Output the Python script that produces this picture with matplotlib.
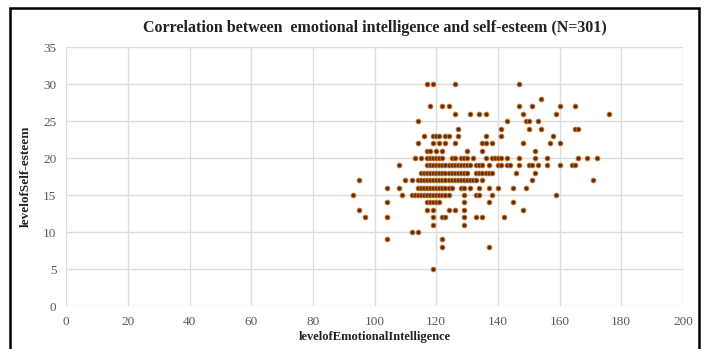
import matplotlib
matplotlib.use("Agg")
import matplotlib.pyplot as plt
from matplotlib.patches import Rectangle

# Self-esteem levels (y) and the emotional intelligence scores (x) seen on each level
se_levels = [30, 28, 27, 26, 25, 24, 23, 22, 21, 20, 19, 18, 17, 16, 15, 14, 13, 12, 11, 10, 9, 8, 5]
ei_rows = [
    [117, 119, 126, 147],
    [154],
    [118, 122, 124, 147, 151, 160, 165],
    [126, 131, 134, 136, 148, 159, 176],
    [114, 143, 149, 150, 153],
    [127, 141, 150, 154, 165, 166],
    [116, 119, 120, 121, 123, 124, 127, 136, 141, 158],
    [114, 119, 121, 123, 126, 135, 136, 138, 148, 157, 160],
    [117, 118, 120, 122, 130, 135, 152],
    [113, 115, 117, 118, 119, 120, 121, 122, 125, 126, 128, 129, 130, 132, 136,
     138, 139, 140, 141, 143, 147, 152, 156, 166, 169, 172],
    [108, 117, 118, 119, 120, 121, 122, 123, 124, 125, 126, 127, 128, 129, 130,
     131, 133, 134, 135, 137, 140, 141, 143, 144, 147, 150, 151, 153, 156, 160,
     164, 165],
    [115, 116, 117, 118, 119, 120, 121, 122, 123, 124, 125, 126, 127, 128, 129,
     130, 133, 134, 135, 136, 137, 138, 146, 152],
    [95, 110, 112, 114, 115, 116, 117, 118, 119, 120, 121, 122, 123, 124, 125,
     126, 127, 128, 129, 130, 131, 132, 133, 135, 151, 171],
    [104, 108, 114, 115, 116, 117, 118, 119, 120, 121, 122, 123, 124, 125, 128,
     129, 131, 134, 137, 140, 145, 149],
    [93, 109, 112, 113, 114, 115, 116, 117, 118, 119, 120, 121, 122, 123, 124,
     129, 133, 134, 138, 159],
    [104, 117, 118, 119, 120, 121, 129, 137, 145],
    [95, 117, 119, 124, 126, 129, 148],
    [97, 104, 119, 122, 123, 129, 133, 135, 142],
    [119, 129],
    [112, 114],
    [104, 122],
    [122, 137],
    [119],
]

x_ticks = [0, 20, 40, 60, 80, 100, 120, 140, 160, 180, 200]
y_ticks = [0, 5, 10, 15, 20, 25, 30, 35]

ei = []
se = []
for level, row in zip(se_levels, ei_rows):
    for v in row:
        ei.append(v)
        se.append(level)

plt.rcParams["font.family"] = ["Liberation Serif", "DejaVu Serif"]

fig = plt.figure(figsize=(7.04, 3.49), dpi=100)
ax = fig.add_axes([0.094, 0.123, 0.876, 0.742])

ax.scatter(ei, se, s=12, facecolor="#5e2e0e", edgecolor="#d07a2a",
           linewidths=0.6, zorder=3)

ax.set_xlim(0, 200)
ax.set_ylim(0, 35)
ax.set_xticks(x_ticks)
ax.set_yticks(y_ticks)
ax.grid(True, color="#dcdcdc", linewidth=1.0)
ax.set_axisbelow(True)
for s in ax.spines.values():
    s.set_visible(False)
ax.tick_params(length=0, labelsize=9.5, colors="#595959", pad=7)

ax.set_title("Correlation between  emotional intelligence and self-esteem (N=301)",
             fontsize=11.5, fontweight="bold", color="#222222", pad=11)
ax.set_xlabel("levelofEmotionalIntelligence", fontsize=9, fontweight="bold",
              color="#222222", labelpad=2)
ax.set_ylabel("levelofSelf-esteem", fontsize=9.5, fontweight="bold",
              color="#222222", labelpad=8)

# outer chart border
fig.patches.append(Rectangle((10 / 704, -0.05), 689 / 704, 1.05 - 8 / 349,
                             transform=fig.transFigure, fill=False,
                             edgecolor="black", linewidth=1.8))

fig.savefig("out.png", dpi=100)
